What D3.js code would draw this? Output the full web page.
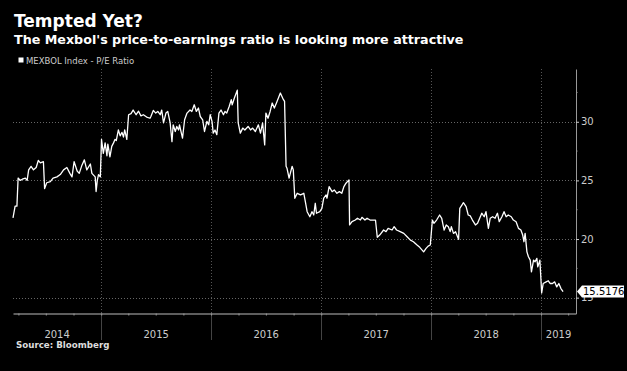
<!DOCTYPE html>
<html>
<head>
<meta charset="utf-8">
<script src="https://cdn.jsdelivr.net/npm/d3@7/dist/d3.min.js"></script>
<style>
  body { margin: 0; background: #000; }
  svg { display: block; font-family: 'DejaVu Sans', sans-serif; }
</style>
</head>
<body>
<div id="viz"></div>
<script>
// MEXBOL Index P/E ratio (roughly weekly)
const dates = [
  '2014-03-14','2014-03-21','2014-03-27','2014-03-31','2014-04-07','2014-04-14','2014-04-24','2014-04-30',
  '2014-05-05','2014-05-13','2014-05-21','2014-05-30','2014-06-06','2014-06-13','2014-06-23','2014-06-27',
  '2014-07-04','2014-07-16','2014-07-25','2014-08-07','2014-08-18','2014-08-29','2014-09-09','2014-09-19',
  '2014-09-26','2014-10-03','2014-10-13','2014-10-20','2014-10-29','2014-11-06','2014-11-14','2014-11-26',
  '2014-12-01','2014-12-12','2014-12-15','2014-12-19','2014-12-23','2014-12-29',
  '2015-01-02','2015-01-08','2015-01-14','2015-01-20','2015-01-23','2015-01-30','2015-02-05','2015-02-11',
  '2015-02-16','2015-02-20','2015-02-27','2015-03-05','2015-03-11','2015-03-16','2015-03-20','2015-03-27',
  '2015-04-02','2015-04-10','2015-04-17','2015-04-27','2015-05-05','2015-05-13','2015-05-21','2015-06-01',
  '2015-06-12','2015-06-15','2015-06-23','2015-07-01','2015-07-08','2015-07-16','2015-07-21','2015-07-27',
  '2015-08-04','2015-08-10','2015-08-18','2015-08-24','2015-08-28','2015-09-04','2015-09-09','2015-09-15',
  '2015-09-18','2015-09-28','2015-10-05','2015-10-13','2015-10-23','2015-10-29','2015-11-06','2015-11-13',
  '2015-11-20','2015-11-26','2015-12-04','2015-12-10','2015-12-18','2015-12-24','2015-12-29',
  '2016-01-04','2016-01-08','2016-01-14','2016-01-20','2016-01-27','2016-02-03','2016-02-11','2016-02-16',
  '2016-02-22','2016-03-01','2016-03-08','2016-03-11','2016-03-18','2016-03-28','2016-03-31','2016-04-07',
  '2016-04-15','2016-04-22','2016-05-03','2016-05-11','2016-05-18','2016-05-27','2016-06-06','2016-06-13',
  '2016-06-20','2016-06-27','2016-07-01','2016-07-08','2016-07-15','2016-07-22','2016-07-29','2016-08-05',
  '2016-08-18','2016-08-26','2016-09-01','2016-09-06','2016-09-09','2016-09-16','2016-09-26','2016-09-30',
  '2016-10-05','2016-10-13','2016-10-24','2016-11-04','2016-11-09','2016-11-15','2016-11-24','2016-12-01',
  '2016-12-07','2016-12-12','2016-12-16','2016-12-27',
  '2017-01-03','2017-01-09','2017-01-17','2017-01-20','2017-01-27','2017-02-06','2017-02-13','2017-02-22',
  '2017-03-02','2017-03-10','2017-03-17','2017-03-24','2017-04-03','2017-04-05','2017-04-13','2017-04-24',
  '2017-05-01','2017-05-11','2017-05-16','2017-05-26','2017-06-02','2017-06-12','2017-06-23','2017-06-30',
  '2017-07-06','2017-07-14','2017-07-27','2017-08-04','2017-08-11','2017-08-24','2017-08-31','2017-09-08',
  '2017-09-20','2017-10-02','2017-10-13','2017-10-24','2017-11-03','2017-11-15','2017-11-24','2017-12-07',
  '2017-12-15','2017-12-22','2017-12-29',
  '2018-01-05','2018-01-10','2018-01-19','2018-01-29','2018-02-05','2018-02-13','2018-02-20','2018-02-27',
  '2018-03-05','2018-03-09','2018-03-16','2018-03-23','2018-04-02','2018-04-06','2018-04-13','2018-04-18',
  '2018-04-27','2018-05-04','2018-05-11','2018-05-18','2018-05-28','2018-06-04','2018-06-11','2018-06-18',
  '2018-06-26','2018-07-02','2018-07-10','2018-07-16','2018-07-24','2018-08-01','2018-08-09','2018-08-15',
  '2018-08-24','2018-08-31','2018-09-07','2018-09-14','2018-09-24','2018-10-01','2018-10-10','2018-10-18',
  '2018-10-26','2018-11-01','2018-11-05','2018-11-09','2018-11-15','2018-11-20','2018-11-26','2018-11-30',
  '2018-12-07','2018-12-12','2018-12-18','2018-12-21','2018-12-28',
  '2019-01-03','2019-01-08','2019-01-18','2019-01-25','2019-01-31','2019-02-08','2019-02-15','2019-02-22',
  '2019-03-01','2019-03-08','2019-03-15'
];

const peValues = [
  21.8,22.8,22.8,25.2,25.0,25.1,25.2,25.0,
  25.9,26.2,25.9,26.1,26.7,26.5,26.6,24.3,
  24.8,24.9,25.2,25.3,25.5,25.9,26.1,25.6,
  25.3,26.6,25.8,25.6,26.3,26.75,25.9,26.4,
  25.6,25.3,24.05,25.0,25.5,25.3,
  28.5,27.3,28.2,27.1,28.1,27.0,27.9,28.2,
  28.5,28.4,29.3,28.8,29.1,28.7,29.3,28.5,
  30.6,30.7,31.0,30.6,30.9,30.5,30.6,30.4,
  30.3,30.45,30.97,30.74,30.88,30.6,31.0,29.9,
  30.74,30.88,29.9,28.3,29.74,29.17,29.6,29.3,
  29.74,28.6,30.17,30.74,31.0,30.88,31.45,30.88,
  31.17,30.45,30.17,29.17,30.03,29.74,30.6,
  30.03,29.03,29.3,28.9,30.74,31.0,30.6,30.88,
  30.74,31.3,31.88,31.45,32.0,32.7,29.9,29.03,
  29.46,29.3,29.6,29.3,29.46,29.17,29.74,29.03,
  29.9,28.03,30.74,30.3,30.88,31.6,31.17,31.6,
  32.45,32.0,31.74,26.2,26.04,25.19,26.2,25.9,
  23.48,23.9,23.76,23.9,23.19,22.33,21.9,22.33,
  22.05,23.05,22.2,22.33,
  22.62,23.48,23.76,23.48,24.47,24.04,24.19,23.9,
  24.04,23.9,24.47,24.76,25.04,21.2,21.48,21.62,
  21.77,21.62,21.85,21.62,21.77,21.62,21.62,21.62,
  20.15,20.34,20.77,20.63,20.91,20.77,21.05,20.77,
  20.63,20.48,20.2,19.91,19.77,19.49,19.29,18.91,
  19.2,19.4,19.49,
  21.62,21.34,21.62,22.05,21.77,20.77,21.2,21.05,
  20.63,21.05,20.48,20.63,19.97,22.62,22.9,23.1,
  22.76,22.05,21.97,21.62,21.2,21.34,21.77,22.2,
  21.9,22.33,20.91,21.77,21.9,21.77,22.2,21.48,
  21.9,22.33,21.9,22.05,21.9,21.62,21.48,20.91,
  20.77,20.34,19.77,20.48,18.91,18.49,18.2,17.2,
  18.2,18.06,18.35,17.63,18.2,
  15.4,16.21,16.35,16.44,16.21,16.21,16.35,15.92,
  16.21,15.78,15.5176
];

const years = [2014, 2015, 2016, 2017, 2018, 2019];
const yTicks = [15, 20, 25, 30];
const yMinorTicks = [17.5, 22.5, 27.5, 32.5];

const title = 'Tempted Yet?';
const subtitle = "The Mexbol's price-to-earnings ratio is looking more attractive";
const legendLabel = 'MEXBOL Index - P/E Ratio';
const source = 'Source: Bloomberg';

const width = 627, height = 371;
const margin = {top: 69, right: 51, bottom: 57.5, left: 13};
const plotRight = width - margin.right;
const plotBottom = height - margin.bottom;

const parse = d3.timeParse('%Y-%m-%d');
const data = dates.map((d, i) => ({date: parse(d), value: peValues[i]}));

const x = d3.scaleTime()
    .domain([parse('2014-03-14'), parse('2019-04-27')])
    .range([margin.left, plotRight]);

const y = d3.scaleLinear()
    .domain([13.65, 34.5])
    .range([plotBottom, margin.top]);

const svg = d3.select('#viz')
    .append('svg')
    .attr('width', width)
    .attr('height', height)
    .style('background', '#000');

// titles
svg.append('text')
    .attr('x', 14).attr('y', 27)
    .attr('fill', '#fff')
    .style('font-weight', 'bold')
    .style('font-size', '17px')
    .text(title);

svg.append('text')
    .attr('x', 14).attr('y', 44)
    .attr('fill', '#fff')
    .style('font-weight', 'bold')
    .style('font-size', '12.7px')
    .text(subtitle);

// legend
svg.append('rect')
    .attr('x', 18.5).attr('y', 57.5)
    .attr('width', 5).attr('height', 5)
    .attr('fill', '#fff');

svg.append('text')
    .attr('x', 26).attr('y', 64)
    .attr('fill', '#ccc')
    .style('font-size', '8.5px')
    .text(legendLabel);

// horizontal gridlines
svg.append('g')
    .selectAll('line')
    .data(yTicks)
    .join('line')
    .attr('x1', margin.left).attr('x2', plotRight)
    .attr('y1', d => Math.round(y(d)) + 0.5)
    .attr('y2', d => Math.round(y(d)) + 0.5)
    .attr('stroke', '#666')
    .attr('stroke-dasharray', '1,2');

// year dividers
const yearStarts = years.slice(1).map(yr => new Date(yr, 0, 1));
const dividers = svg.append('g');
dividers.selectAll('.div-in')
    .data(yearStarts)
    .join('line')
    .attr('class', 'div-in')
    .attr('x1', d => Math.round(x(d)) + 0.5)
    .attr('x2', d => Math.round(x(d)) + 0.5)
    .attr('y1', margin.top).attr('y2', plotBottom)
    .attr('stroke', '#555')
    .attr('stroke-dasharray', '1,2');
dividers.selectAll('.div-out')
    .data(yearStarts)
    .join('line')
    .attr('class', 'div-out')
    .attr('x1', d => Math.round(x(d)) + 0.5)
    .attr('x2', d => Math.round(x(d)) + 0.5)
    .attr('y1', plotBottom).attr('y2', 340)
    .attr('stroke', '#444');

// x axis, quarterly ticks
const xAxis = svg.append('g')
    .attr('transform', `translate(0,${plotBottom})`)
    .call(d3.axisBottom(x)
        .ticks(d3.timeMonth.every(3))
        .tickSize(2)
        .tickSizeOuter(0)
        .tickFormat(''));
xAxis.select('.domain').attr('stroke', '#bbb');
xAxis.selectAll('.tick line').attr('stroke', '#999');

// year labels centred in their visible span
svg.append('g')
    .selectAll('text')
    .data(years)
    .join('text')
    .attr('x', yr => {
        const a = Math.max(x(new Date(yr, 0, 1)), margin.left);
        const b = Math.min(x(new Date(yr + 1, 0, 1)), plotRight);
        return (a + b) / 2;
    })
    .attr('y', 337.5)
    .attr('text-anchor', 'middle')
    .attr('fill', '#ccc')
    .style('font-size', '10px')
    .text(d => d);

// right y axis
const yAxis = svg.append('g')
    .attr('transform', `translate(${plotRight},0)`)
    .call(d3.axisRight(y)
        .tickValues(yTicks)
        .tickSize(3)
        .tickSizeOuter(0)
        .tickPadding(2));
yAxis.select('.domain').attr('stroke', '#999');
yAxis.selectAll('.tick line').attr('stroke', '#ccc');
yAxis.selectAll('.tick text')
    .attr('fill', '#ccc')
    .style('font-size', '10px')
    .style('font-family', "'DejaVu Sans', sans-serif");

svg.append('g')
    .selectAll('line')
    .data(yMinorTicks)
    .join('line')
    .attr('x1', plotRight).attr('x2', plotRight + 1.5)
    .attr('y1', d => y(d)).attr('y2', d => y(d))
    .attr('stroke', '#999');

// the line
const line = d3.line()
    .x(d => x(d.date))
    .y(d => y(d.value));

svg.append('path')
    .datum(data)
    .attr('d', line)
    .attr('fill', 'none')
    .attr('stroke', '#fff')
    .attr('stroke-width', 1.3)
    .attr('stroke-linejoin', 'round');

// last value tag, drawn over the "15" label as in the original
const last = data[data.length - 1];
const ty = y(last.value);
const tag = svg.append('g').attr('transform', `translate(${plotRight + 1},${ty})`);
tag.append('path')
    .attr('d', 'M0,0 L5,-6 L47,-6 L47,6 L5,6 Z')
    .attr('fill', '#fff');
tag.append('text')
    .attr('x', 6).attr('y', 0)
    .attr('dy', '0.35em')
    .attr('fill', '#000')
    .style('font-size', '10px')
    .text(last.value);

// source
svg.append('text')
    .attr('x', 16).attr('y', 348)
    .attr('fill', '#ddd')
    .style('font-weight', 'bold')
    .style('font-size', '8.7px')
    .text(source);
</script>
</body>
</html>
